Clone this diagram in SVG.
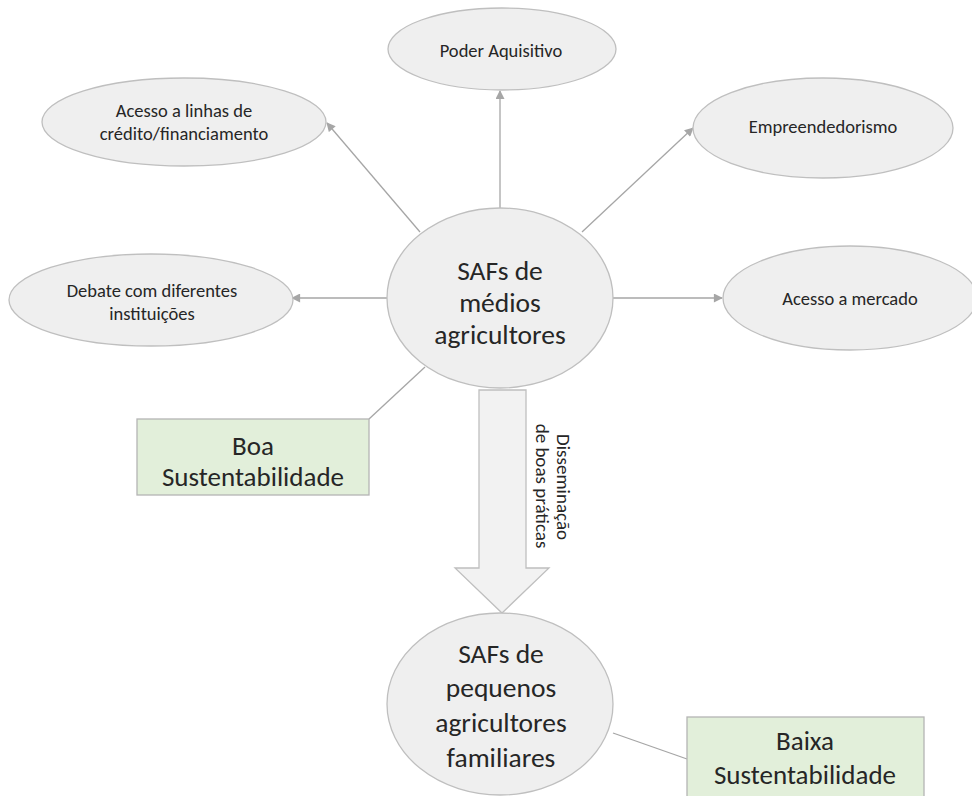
<svg xmlns="http://www.w3.org/2000/svg" width="972" height="796" viewBox="0 0 972 796">
<style>
.el{fill:#efefef;stroke:#bfbfbf;stroke-width:1.3}
.box{fill:#e2efda;stroke:#b4b4b4;stroke-width:1.3}
.t{font-family:Carlito,Lato,"Liberation Sans",sans-serif;fill:#262626;text-anchor:middle}
.s{font-size:18.5px}
.b{font-size:27.5px}
.m{font-size:27px}
.c{stroke:#a6a6a6;stroke-width:1.3;fill:none}
</style>
<defs>
<marker id="ah" viewBox="0 0 10 10" refX="9" refY="5" markerWidth="10" markerHeight="9" markerUnits="userSpaceOnUse" orient="auto">
<path d="M0,0 L10,5 L0,10 z" fill="#a6a6a6"/>
</marker>
</defs>
<g id="connectors">
<line class="c" x1="500" y1="208" x2="500" y2="91" marker-end="url(#ah)"/>
<line class="c" x1="420" y1="232" x2="327" y2="123" marker-end="url(#ah)"/>
<line class="c" x1="582" y1="232" x2="693" y2="128" marker-end="url(#ah)"/>
<line class="c" x1="613" y1="298" x2="722" y2="298" marker-end="url(#ah)"/>
<line class="c" x1="387" y1="298" x2="292" y2="298" marker-end="url(#ah)"/>
<line class="c" x1="425" y1="367" x2="369" y2="419"/>
<line class="c" x1="613" y1="733" x2="687" y2="759"/>
<path d="M479,390 H526 V568 H549 L502,613 L455,568 H479 Z" fill="#f2f2f2" stroke="#bfbfbf" stroke-width="1.3"/>
<g class="t" style="font-size:19px">
<text transform="translate(563,487) rotate(90)" dy="6">Disseminação</text>
<text transform="translate(542,486) rotate(90)" dy="6">de boas práticas</text>
</g>
</g>
<g id="center">
<ellipse class="el" cx="500" cy="298" rx="113" ry="90"/>
<text class="t b" x="500" y="280">SAFs de</text>
<text class="t b" x="500" y="312">médios</text>
<text class="t b" x="500" y="344">agricultores</text>
</g>
<g id="poder">
<ellipse class="el" cx="502" cy="49" rx="114" ry="41"/>
<text class="t s" x="501" y="57">Poder Aquisitivo</text>
</g>
<g id="credito">
<ellipse class="el" cx="184" cy="122" rx="142" ry="44"/>
<text class="t s" x="184" y="117">Acesso a linhas de</text>
<text class="t s" x="184" y="140">crédito/financiamento</text>
</g>
<g id="empreend">
<ellipse class="el" cx="823" cy="128" rx="130" ry="50"/>
<text class="t s" x="823" y="133">Empreendedorismo</text>
</g>
<g id="mercado">
<ellipse class="el" cx="850" cy="298" rx="127" ry="52"/>
<text class="t s" x="850" y="305">Acesso a mercado</text>
</g>
<g id="debate">
<ellipse class="el" cx="151" cy="300" rx="142" ry="46"/>
<text class="t s" x="152" y="297">Debate com diferentes</text>
<text class="t s" x="152" y="320">instituições</text>
</g>
<g id="boa">
<rect class="box" x="137" y="419" width="232" height="76"/>
<text class="t m" x="253" y="455">Boa</text>
<text class="t m" x="253" y="486">Sustentabilidade</text>
</g>
<g id="pequenos">
<ellipse class="el" cx="500" cy="704" rx="113" ry="91"/>
<text class="t b" x="501" y="663">SAFs de</text>
<text class="t b" x="501" y="697">pequenos</text>
<text class="t b" x="501" y="732">agricultores</text>
<text class="t b" x="501" y="767">familiares</text>
</g>
<g id="baixa">
<rect class="box" x="687" y="717" width="237" height="90"/>
<text class="t m" x="805" y="750">Baixa</text>
<text class="t m" x="805" y="784">Sustentabilidade</text>
</g>
</svg>
